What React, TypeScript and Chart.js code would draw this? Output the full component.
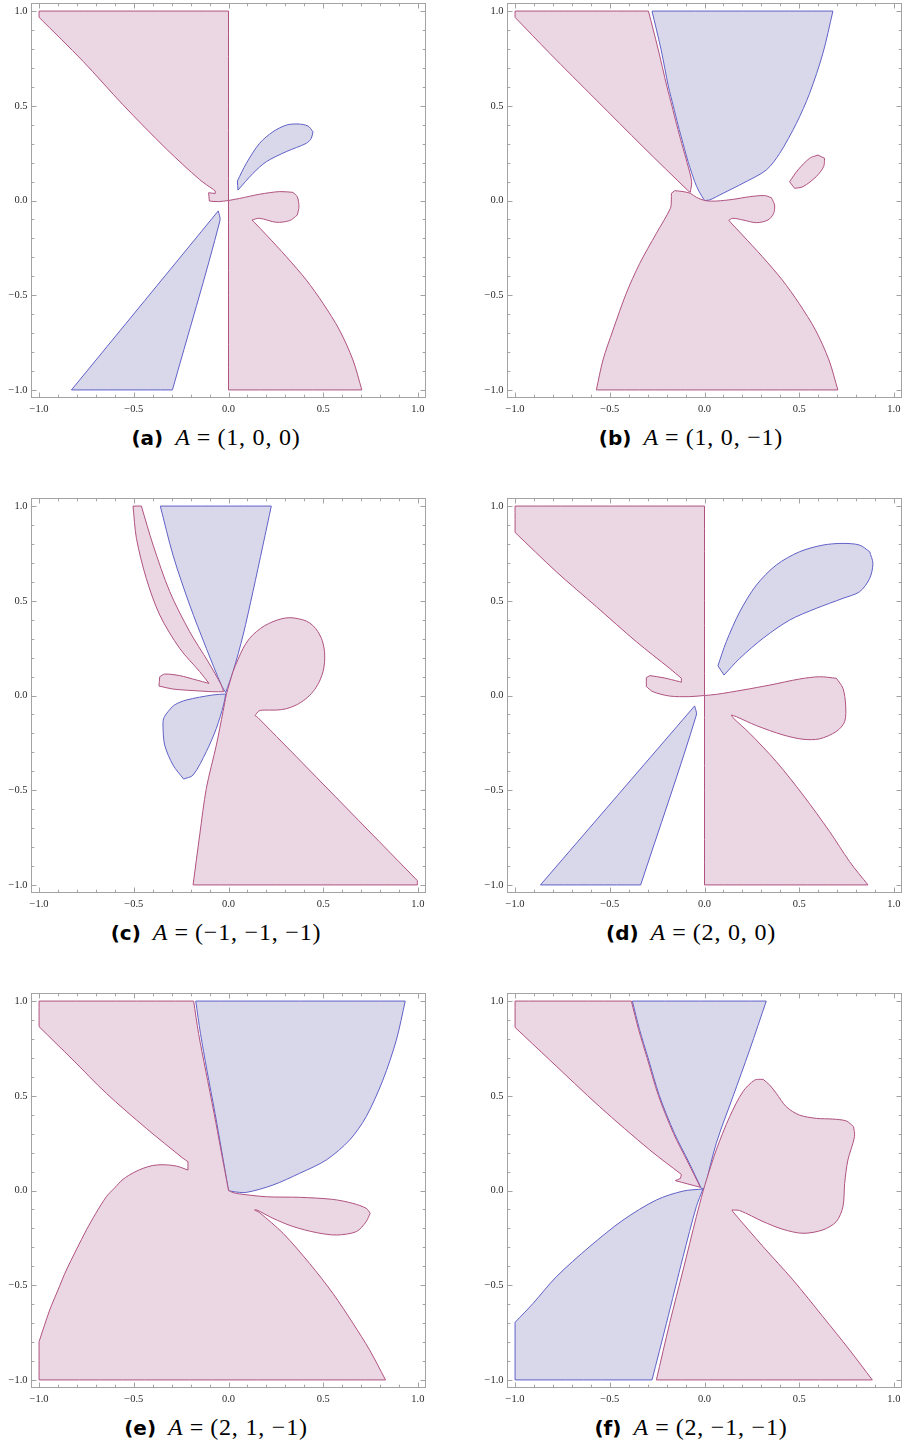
import React, { useEffect, useRef } from "react";
import { Chart, registerables } from "chart.js";

Chart.register(...registerables);

type Pt = [number, number];

// ---------- panel (a)  A = (1,0,0) ----------
const aPinkUpper: Pt[] = [[-1, 1], [0, 1], [0, 0], [-0.052, -0.006], [-0.101, -0.003], [-0.105, 0.041], [-0.07, 0.037], [-0.07, 0.05], [-0.08, 0.058], [-0.152, 0.11], [-0.328, 0.272], [-0.557, 0.505], [-0.768, 0.735], [-1, 0.967]];
const aPinkLower: Pt[] = [[0, 0], [0.059, 0.011], [0.164, 0.033], [0.27, 0.047], [0.34, 0.043], [0.363, 0.02], [0.372, -0.033], [0.363, -0.077], [0.323, -0.106], [0.252, -0.115], [0.164, -0.094], [0.124, -0.103], [0.138, -0.117], [0.2, -0.182], [0.305, -0.296], [0.411, -0.42], [0.499, -0.543], [0.586, -0.684], [0.657, -0.842], [0.704, -1], [0, -1]];
const aBlueUpper: Pt[] = [[0.047, 0.103], [0.05, 0.055], [0.129, 0.143], [0.2, 0.205], [0.305, 0.258], [0.411, 0.302], [0.437, 0.328], [0.446, 0.363], [0.42, 0.393], [0.367, 0.404], [0.305, 0.398], [0.235, 0.363], [0.164, 0.302], [0.094, 0.196]];
const aBlueLower: Pt[] = [[-0.054, -0.055], [-0.045, -0.106], [-0.296, -1], [-0.829, -1]];

// ---------- panel (b)  A = (1,0,-1) ----------
const bPinkUpper: Pt[] = [[-1, 1], [-0.296, 1], [-0.245, 0.8], [-0.198, 0.6], [-0.172, 0.5], [-0.147, 0.4], [-0.12, 0.3], [-0.092, 0.2], [-0.068, 0.1], [-0.075, 0.043], [-0.087, 0.052], [-0.325, 0.284], [-0.571, 0.53], [-0.817, 0.777], [-1, 0.967]];
const bBlue: Pt[] = [[-0.277, 1], [0.678, 1], [0.625, 0.777], [0.555, 0.566], [0.485, 0.407], [0.397, 0.249], [0.326, 0.161], [0.203, 0.091], [0.098, 0.038], [0.027, 0.003], [0, 0], [-0.03, 0.05], [-0.052, 0.1], [-0.085, 0.2], [-0.113, 0.3], [-0.14, 0.4], [-0.165, 0.5], [-0.19, 0.6], [-0.23, 0.8]];
const bPinkLower: Pt[] = [[-0.571, -1], [0.704, -1], [0.657, -0.842], [0.586, -0.684], [0.499, -0.543], [0.411, -0.42], [0.305, -0.296], [0.2, -0.182], [0.14, -0.118], [0.128, -0.104], [0.15, -0.094], [0.203, -0.103], [0.274, -0.117], [0.335, -0.103], [0.365, -0.068], [0.37, -0.024], [0.353, 0.015], [0.317, 0.026], [0.238, 0.02], [0.15, 0.006], [0.062, -0.003], [0.006, -0.001], [-0.043, 0.017], [-0.075, 0.038], [-0.113, 0.047], [-0.157, 0.052], [-0.175, 0.038], [-0.175, 0.003], [-0.18, -0.041], [-0.254, -0.173], [-0.342, -0.332], [-0.413, -0.49], [-0.483, -0.684], [-0.536, -0.842]];
const bPinkIsland: Pt[] = [[0.449, 0.099], [0.476, 0.064], [0.52, 0.073], [0.59, 0.126], [0.629, 0.179], [0.634, 0.223], [0.599, 0.24], [0.555, 0.223], [0.493, 0.161]];

// ---------- panel (c)  A = (-1,-1,-1) ----------
const cPinkBlade: Pt[] = [[-0.504, 1], [-0.46, 1], [-0.398, 0.794], [-0.31, 0.548], [-0.205, 0.337], [-0.108, 0.179], [-0.038, 0.055], [-0.026, 0.02], [-0.082, 0.02], [-0.187, 0.026], [-0.293, 0.034], [-0.367, 0.05], [-0.363, 0.099], [-0.337, 0.113], [-0.258, 0.105], [-0.17, 0.082], [-0.103, 0.064], [-0.152, 0.126], [-0.258, 0.249], [-0.363, 0.425], [-0.434, 0.618], [-0.486, 0.829]];
const cBlueUpper: Pt[] = [[-0.36, 1], [0.226, 1], [0.182, 0.794], [0.129, 0.548], [0.077, 0.319], [0.024, 0.126], [-0.015, 0.015], [-0.038, 0.055], [-0.117, 0.249], [-0.205, 0.478], [-0.293, 0.741]];
const cBlueLower: Pt[] = [[-0.015, 0.008], [-0.082, 0.003], [-0.223, -0.024], [-0.285, -0.05], [-0.319, -0.085], [-0.342, -0.12], [-0.346, -0.156], [-0.337, -0.261], [-0.293, -0.367], [-0.237, -0.441], [-0.187, -0.42], [-0.117, -0.296], [-0.064, -0.173], [-0.026, -0.05]];
const cPinkRight: Pt[] = [[-0.011, 0.008], [0.024, 0.126], [0.05, 0.19], [0.077, 0.249], [0.11, 0.3], [0.147, 0.337], [0.19, 0.368], [0.235, 0.39], [0.28, 0.405], [0.323, 0.411], [0.37, 0.405], [0.411, 0.393], [0.445, 0.37], [0.472, 0.337], [0.495, 0.29], [0.507, 0.231], [0.507, 0.175], [0.499, 0.126], [0.478, 0.07], [0.446, 0.02], [0.405, -0.02], [0.358, -0.05], [0.305, -0.07], [0.252, -0.077], [0.182, -0.077], [0.16, -0.082], [0.14, -0.106], [0.156, -0.117], [0.997, -0.977], [0.997, -1], [-0.187, -1], [-0.152, -0.736], [-0.117, -0.49], [-0.064, -0.261], [-0.029, -0.085]];

// ---------- panel (d)  A = (2,0,0) ----------
const dPinkUpper: Pt[] = [[-1, 1], [0, 1], [0, 0], [-0.078, -0.006], [-0.184, -0.003], [-0.272, 0.02], [-0.307, 0.047], [-0.307, 0.094], [-0.289, 0.105], [-0.219, 0.094], [-0.131, 0.073], [-0.122, 0.07], [-0.122, 0.091], [-0.184, 0.143], [-0.36, 0.284], [-0.571, 0.469], [-0.782, 0.653], [-1, 0.861]];
const dPinkLower: Pt[] = [[0, 0], [0.062, 0.006], [0.203, 0.029], [0.344, 0.055], [0.502, 0.087], [0.607, 0.099], [0.696, 0.091], [0.731, 0.038], [0.745, -0.05], [0.74, -0.138], [0.696, -0.19], [0.607, -0.229], [0.52, -0.231], [0.414, -0.208], [0.274, -0.159], [0.168, -0.112], [0.142, -0.103], [0.15, -0.117], [0.238, -0.199], [0.379, -0.349], [0.52, -0.525], [0.661, -0.719], [0.766, -0.877], [0.863, -1], [0, -1]];
const dBlueUpper: Pt[] = [[0.071, 0.157], [0.103, 0.108], [0.186, 0.196], [0.309, 0.302], [0.449, 0.398], [0.59, 0.46], [0.731, 0.513], [0.819, 0.548], [0.872, 0.618], [0.889, 0.697], [0.872, 0.759], [0.819, 0.794], [0.731, 0.803], [0.625, 0.794], [0.502, 0.759], [0.379, 0.689], [0.274, 0.583], [0.186, 0.442], [0.115, 0.284]];
const dBlueLower: Pt[] = [[-0.052, -0.055], [-0.043, -0.103], [-0.337, -1], [-0.866, -1]];

// ---------- panel (e)  A = (2,1,-1) ----------
const ePink: Pt[] = [[-1, 1], [-0.184, 1], [-0.158, 0.829], [-0.121, 0.636], [-0.076, 0.407], [-0.04, 0.214], [0, 0], [0.024, -0.011], [0.059, -0.018], [0.2, -0.033], [0.376, -0.036], [0.551, -0.047], [0.657, -0.068], [0.727, -0.094], [0.748, -0.12], [0.727, -0.164], [0.675, -0.217], [0.569, -0.235], [0.463, -0.222], [0.34, -0.19], [0.235, -0.147], [0.15, -0.103], [0.138, -0.103], [0.164, -0.117], [0.288, -0.226], [0.428, -0.385], [0.551, -0.543], [0.657, -0.701], [0.745, -0.842], [0.829, -1], [-1, -1], [-1, -0.798], [-0.944, -0.631], [-0.9, -0.525], [-0.856, -0.42], [-0.75, -0.208], [-0.7, -0.12], [-0.645, -0.033], [-0.6, 0.015], [-0.557, 0.059], [-0.5, 0.095], [-0.451, 0.117], [-0.4, 0.132], [-0.346, 0.136], [-0.275, 0.129], [-0.214, 0.108], [-0.214, 0.152], [-0.24, 0.17], [-0.434, 0.328], [-0.645, 0.513], [-0.821, 0.689], [-1, 0.865]];
const eBlueUpper: Pt[] = [[-0.173, 1], [0.933, 1], [0.886, 0.794], [0.815, 0.583], [0.727, 0.39], [0.639, 0.266], [0.516, 0.161], [0.376, 0.091], [0.235, 0.029], [0.094, -0.01], [0.024, -0.006], [0, 0], [-0.037, 0.214], [-0.071, 0.407], [-0.114, 0.636], [-0.148, 0.829]];
const eBlueSliver: Pt[] = [[0.015, -0.068], [0.045, -0.061], [0.094, -0.173], [0.12, -0.279], [0.133, -0.349], [0.085, -0.34], [0.059, -0.244]];

// ---------- panel (f)  A = (2,-1,-1) ----------
const fPinkUpper: Pt[] = [[-1, 1], [-0.386, 1], [-0.348, 0.85], [-0.303, 0.7], [-0.243, 0.5], [-0.163, 0.3], [-0.088, 0.15], [-0.022, 0.017], [-0.154, 0.052], [-0.127, 0.064], [-0.122, 0.085], [-0.289, 0.214], [-0.553, 0.442], [-0.817, 0.689], [-1, 0.861]];
const fBlueUpper: Pt[] = [[-0.381, 1], [0.326, 1], [0.238, 0.741], [0.15, 0.495], [0.062, 0.249], [0.001, 0.011], [-0.017, 0.011], [-0.083, 0.15], [-0.158, 0.3], [-0.238, 0.5], [-0.298, 0.7], [-0.343, 0.85]];
const fBlueLower: Pt[] = [[-1, -0.696], [-1, -1], [-0.277, -1], [-0.201, -0.701], [-0.113, -0.349], [-0.043, -0.085], [-0.008, 0.008], [-0.113, -0.003], [-0.254, -0.05], [-0.43, -0.156], [-0.606, -0.296], [-0.782, -0.455], [-0.905, -0.596]];
const fPinkRight: Pt[] = [[-0.254, -1], [0.886, -1], [0.766, -0.842], [0.625, -0.666], [0.467, -0.472], [0.309, -0.296], [0.15, -0.112], [0.145, -0.103], [0.186, -0.106], [0.309, -0.164], [0.414, -0.205], [0.52, -0.226], [0.625, -0.208], [0.696, -0.164], [0.731, -0.085], [0.74, 0.038], [0.757, 0.161], [0.792, 0.284], [0.787, 0.337], [0.749, 0.367], [0.678, 0.377], [0.59, 0.381], [0.502, 0.398], [0.432, 0.442], [0.379, 0.513], [0.344, 0.557], [0.309, 0.587], [0.265, 0.583], [0.203, 0.522], [0.133, 0.39], [0.062, 0.214], [0.01, 0.055], [-0.008, -0.006], [-0.043, -0.138], [-0.113, -0.42], [-0.184, -0.701]];

// ---------- captions and axis ----------
const captionLetters = ["a", "b", "c", "d", "e", "f"];
const captionTuples = ["(1, 0, 0)", "(1, 0, \u22121)", "(\u22121, \u22121, \u22121)", "(2, 0, 0)", "(2, 1, \u22121)", "(2, \u22121, \u22121)"];
const axisMin = -1.04;
const axisMax = 1.04;
const minorStep = 0.1;

type Kind = "pink" | "blue";
type Region = { pts: Pt[]; kind: Kind };

const panelRegions: Region[][] = [
  [{ pts: aPinkUpper, kind: "pink" }, { pts: aPinkLower, kind: "pink" }, { pts: aBlueUpper, kind: "blue" }, { pts: aBlueLower, kind: "blue" }],
  [{ pts: bPinkUpper, kind: "pink" }, { pts: bPinkLower, kind: "pink" }, { pts: bPinkIsland, kind: "pink" }, { pts: bBlue, kind: "blue" }],
  [{ pts: cPinkBlade, kind: "pink" }, { pts: cPinkRight, kind: "pink" }, { pts: cBlueUpper, kind: "blue" }, { pts: cBlueLower, kind: "blue" }],
  [{ pts: dPinkUpper, kind: "pink" }, { pts: dPinkLower, kind: "pink" }, { pts: dBlueUpper, kind: "blue" }, { pts: dBlueLower, kind: "blue" }],
  [{ pts: ePink, kind: "pink" }, { pts: eBlueUpper, kind: "blue" }, { pts: eBlueSliver, kind: "blue" }],
  [{ pts: fPinkUpper, kind: "pink" }, { pts: fPinkRight, kind: "pink" }, { pts: fBlueUpper, kind: "blue" }, { pts: fBlueLower, kind: "blue" }],
];

const PINK_FILL = "rgb(234,215,227)";
const PINK_LINE = "rgb(176,82,128)";
const BLUE_FILL = "rgb(216,216,234)";
const BLUE_LINE = "rgb(96,96,200)";
const FRAME_COLOR = "#a3a3a3";
const TICK_FONT = "'Liberation Serif', 'Times New Roman', Times, serif";

// layout
const FRAME = 394;
const AXIS_W = 31.5;
const PAD_TOP = 3.5;
const CANVAS_H = 422;
const colCanvasLeft = [0, 476];
const colCanvasWidth = [440, 427];
const rowTop = [0, 495, 990];
const colCaptionCenter = [216, 691];
const rowCaptionCenter = [437, 932, 1427];

const isMajor = (v: number) => Math.abs(v * 2 - Math.round(v * 2)) < 1e-6;
const fmt = (v: number) => (Math.round(v * 10) / 10).toFixed(1).replace("-", "\u2212");

// Turn an outline into a closed path; sharp corners (and points on the plot
// boundary) are doubled so the spline keeps them crisp while bends are smoothed.
function toPath(pts: Pt[]) {
  const n = pts.length;
  const out: { x: number; y: number }[] = [];
  const lim = Math.cos((40 * Math.PI) / 180);
  for (let i = 0; i < n; i++) {
    const p = pts[i];
    const a = pts[(i - 1 + n) % n];
    const b = pts[(i + 1) % n];
    const v1x = p[0] - a[0], v1y = p[1] - a[1];
    const v2x = b[0] - p[0], v2y = b[1] - p[1];
    const d = Math.hypot(v1x, v1y) * Math.hypot(v2x, v2y) || 1;
    const c = (v1x * v2x + v1y * v2y) / d;
    const onEdge = Math.abs(p[0]) > 0.99 || Math.abs(p[1]) > 0.99;
    out.push({ x: p[0], y: p[1] });
    if (c < lim || onEdge) out.push({ x: p[0], y: p[1] });
  }
  out.push({ x: pts[0][0], y: pts[0][1] });
  return out;
}

const framePlugin = {
  id: "mmaFrame",
  afterDatasetsDraw(chart: any) {
    const { ctx, chartArea } = chart;
    const { left, right, top, bottom } = chartArea;
    const xs = chart.scales.x;
    const ys = chart.scales.y;
    ctx.save();
    ctx.strokeStyle = FRAME_COLOR;
    ctx.lineWidth = 1;
    ctx.strokeRect(left, top, right - left, bottom - top);
    ctx.beginPath();
    xs.ticks.forEach((t: any) => {
      const p = Math.round(xs.getPixelForValue(t.value)) + 0.5;
      const L = isMajor(t.value) ? 5 : 2.8;
      ctx.moveTo(p, bottom);
      ctx.lineTo(p, bottom - L);
      ctx.moveTo(p, top);
      ctx.lineTo(p, top + L);
    });
    ys.ticks.forEach((t: any) => {
      const p = Math.round(ys.getPixelForValue(t.value)) + 0.5;
      const L = isMajor(t.value) ? 5 : 2.8;
      ctx.moveTo(left, p);
      ctx.lineTo(left + L, p);
      ctx.moveTo(right, p);
      ctx.lineTo(right - L, p);
    });
    ctx.stroke();
    ctx.restore();
  },
};

function Panel({ index }: { index: number }) {
  const ref = useRef<HTMLCanvasElement>(null);
  const col = index % 2;
  const row = Math.floor(index / 2);
  const width = colCanvasWidth[col];
  useEffect(() => {
    if (!ref.current) return;
    const tickFont = { family: TICK_FONT, size: 10.5 };
    const tickCb = (v: any) => (isMajor(Number(v)) ? fmt(Number(v)) : "");
    const chart = new Chart(ref.current, {
      type: "line",
      data: {
        datasets: panelRegions[index].map((r) => ({
          data: toPath(r.pts),
          fill: "shape",
          backgroundColor: r.kind === "pink" ? PINK_FILL : BLUE_FILL,
          borderColor: r.kind === "pink" ? PINK_LINE : BLUE_LINE,
          borderWidth: 1,
          pointRadius: 0,
          pointHoverRadius: 0,
          tension: 0.3,
        })),
      } as any,
      options: {
        animation: false,
        responsive: false,
        events: [],
        layout: { padding: { top: PAD_TOP, left: 0, bottom: 0, right: width - AXIS_W - FRAME } },
        plugins: { legend: { display: false }, tooltip: { enabled: false } },
        scales: {
          x: {
            type: "linear",
            min: axisMin,
            max: axisMax,
            grid: { display: false, drawTicks: false },
            border: { display: false },
            ticks: { stepSize: minorStep, includeBounds: false, autoSkip: false, maxRotation: 0, padding: 5, color: "#2a2a2a", font: tickFont, callback: tickCb },
            afterFit: (s: any) => {
              s.height = CANVAS_H - PAD_TOP - FRAME;
              s.paddingLeft = 0;
              s.paddingRight = 0;
            },
          },
          y: {
            type: "linear",
            min: axisMin,
            max: axisMax,
            grid: { display: false, drawTicks: false },
            border: { display: false },
            ticks: { stepSize: minorStep, includeBounds: false, autoSkip: false, padding: 4, color: "#2a2a2a", font: tickFont, callback: tickCb },
            afterFit: (s: any) => {
              s.width = AXIS_W;
              s.paddingTop = 0;
              s.paddingBottom = 0;
            },
          },
        },
      } as any,
      plugins: [framePlugin],
    });
    return () => chart.destroy();
  }, [index, width]);
  return (
    <canvas
      ref={ref}
      width={width}
      height={CANVAS_H}
      style={{ position: "absolute", left: colCanvasLeft[col], top: rowTop[row], width, height: CANVAS_H }}
    />
  );
}

function Caption({ index }: { index: number }) {
  const col = index % 2;
  const row = Math.floor(index / 2);
  const cx = colCaptionCenter[col];
  const cy = rowCaptionCenter[row];
  return (
    <div
      style={{
        position: "absolute",
        left: cx - 200,
        width: 400,
        top: cy - 14,
        height: 28,
        lineHeight: "28px",
        textAlign: "center",
        whiteSpace: "nowrap",
        fontFamily: "'Liberation Serif', 'Times New Roman', serif",
        fontSize: 24,
        color: "#000",
      }}
    >
      <span style={{ fontFamily: "'DejaVu Sans', sans-serif", fontWeight: "bold", fontSize: 20 }}>({captionLetters[index]})</span>
      <span style={{ marginLeft: 12 }}>
        <i>A</i>
        <span style={{ margin: "0 7px" }}>=</span>
        <span style={{ letterSpacing: "0.8px" }}>{captionTuples[index]}</span>
      </span>
    </div>
  );
}

export default function App() {
  return (
    <div style={{ position: "absolute", left: 0, top: 0, width: 903, height: 1447, background: "#fff", overflow: "hidden" }}>
      {[0, 1, 2, 3, 4, 5].map((i) => (
        <Panel key={"p" + i} index={i} />
      ))}
      {[0, 1, 2, 3, 4, 5].map((i) => (
        <Caption key={"c" + i} index={i} />
      ))}
    </div>
  );
}
